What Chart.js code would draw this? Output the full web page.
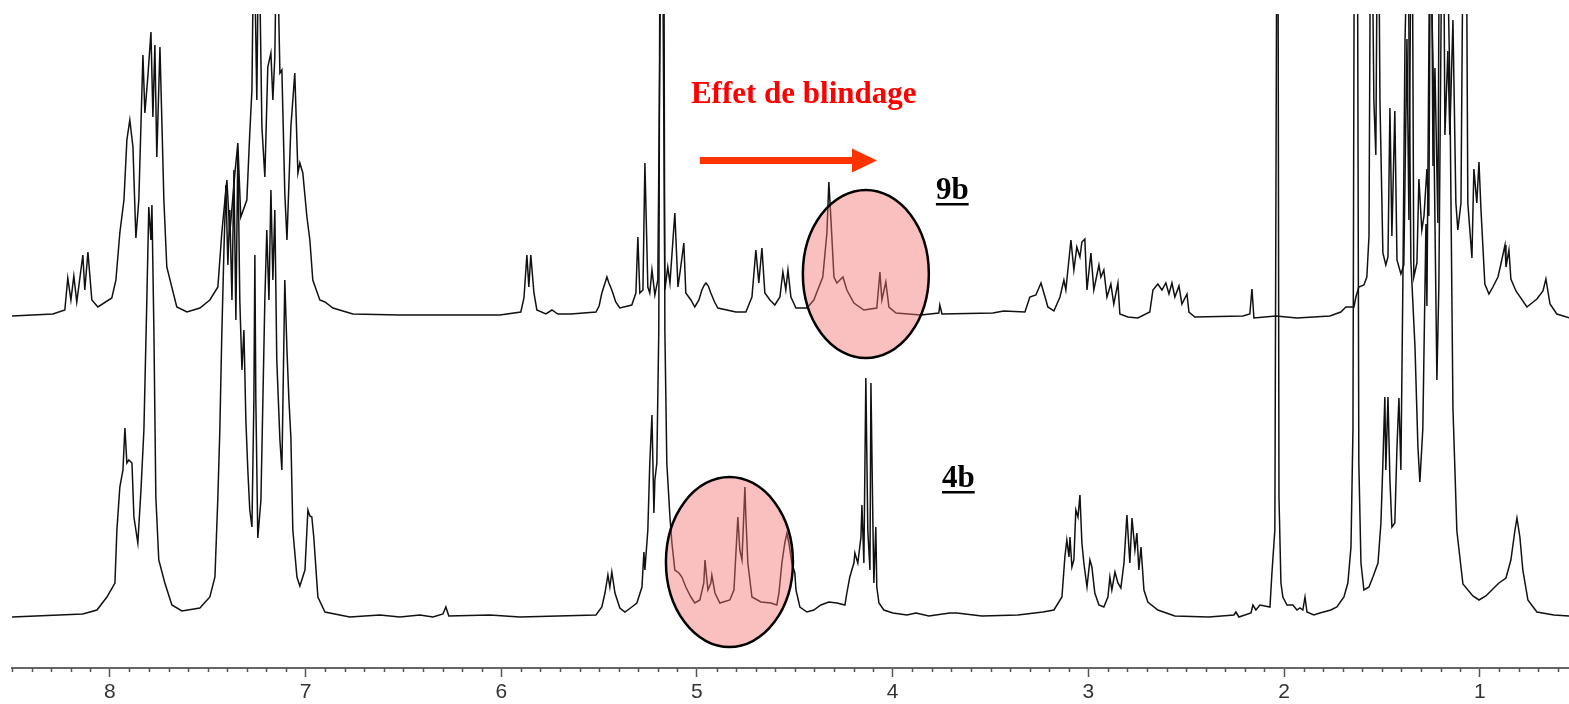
<!DOCTYPE html>
<html><head><meta charset="utf-8">
<script src="https://cdn.jsdelivr.net/npm/chart.js@4.4.1/dist/chart.umd.min.js"></script>
<style>html,body{margin:0;padding:0;background:#fff;}canvas{display:block;}</style>
</head><body>
<canvas id="c" width="1569" height="704"></canvas>
<script>
// ---- Data (chemical shift in ppm, intensity in arbitrary units) ----
const ppm9b = [8.50,8.291,8.230,8.215,8.199,8.184,8.169,8.138,8.128,8.112,8.092,8.061,7.990,7.969,7.949,7.928,7.913,7.898,7.882,7.867,7.852,7.831,7.821,7.806,7.790,7.780,7.770,7.760,7.744,7.734,7.724,7.709,7.658,7.606,7.540,7.489,7.448,7.428,7.412,7.402,7.387,7.361,7.346,7.331,7.300,7.285,7.274,7.264,7.249,7.239,7.223,7.208,7.193,7.177,7.167,7.157,7.147,7.131,7.121,7.106,7.095,7.075,7.055,7.039,7.029,7.014,6.993,6.978,6.963,6.927,6.901,6.860,6.758,6.518,6.007,5.900,5.884,5.869,5.859,5.849,5.833,5.818,5.772,5.741,5.711,5.644,5.516,5.500,5.486,5.460,5.450,5.435,5.415,5.394,5.333,5.312,5.302,5.292,5.276,5.266,5.251,5.241,5.230,5.215,5.200,5.179,5.164,5.149,5.138,5.113,5.097,5.087,5.067,5.057,5.031,5.011,4.990,4.975,4.962,4.954,4.942,4.929,4.910,4.893,4.801,4.750,4.719,4.699,4.684,4.668,4.653,4.627,4.602,4.576,4.561,4.546,4.535,4.520,4.494,4.438,4.403,4.357,4.336,4.326,4.316,4.300,4.285,4.254,4.234,4.198,4.147,4.081,4.065,4.055,4.035,4.019,3.983,3.856,3.764,3.759,3.748,3.488,3.432,3.324,3.299,3.268,3.242,3.217,3.207,3.176,3.145,3.125,3.115,3.089,3.074,3.059,3.043,3.033,3.018,3.007,2.987,2.972,2.946,2.936,2.921,2.905,2.885,2.870,2.849,2.839,2.798,2.747,2.686,2.670,2.645,2.624,2.604,2.588,2.573,2.558,2.537,2.522,2.496,2.486,2.456,2.210,2.175,2.164,2.154,2.042,1.934,1.766,1.710,1.684,1.643,1.633,1.618,1.592,1.577,1.566,1.556,1.541,1.531,1.520,1.510,1.495,1.480,1.469,1.459,1.449,1.434,1.423,1.403,1.388,1.372,1.362,1.347,1.337,1.321,1.311,1.296,1.285,1.270,1.260,1.250,1.239,1.229,1.214,1.204,1.188,1.178,1.163,1.153,1.137,1.122,1.112,1.096,1.081,1.071,1.061,1.040,1.030,1.015,1.004,0.994,0.974,0.953,0.933,0.907,0.892,0.871,0.866,0.851,0.841,0.815,0.759,0.708,0.677,0.662,0.641,0.606,0.539];
const int9b = [0,2,6,38,16,40,14,61,26,64,16,9,18,36,83,116,176,196,169,78,116,261,203,239,284,199,271,159,269,193,116,49,9,4,8,16,29,83,116,136,83,143,173,99,116,183,226,400,216,400,189,139,249,263,216,259,400,243,246,123,76,189,243,143,153,143,99,76,36,16,14,8,2,1,1,4,18,61,29,61,23,6,2,6,2,2,4,10,23,39,33,26,14,8,11,23,79,23,26,153,29,23,46,21,36,500,26,49,33,103,29,43,73,23,16,9,16,26,31,33,30,23,14,8,4,4,19,66,33,68,23,16,11,19,44,26,46,19,8,8,16,39,83,134,99,39,33,39,26,13,6,8,44,16,34,9,3,1,3,11,2,3,5,4,19,21,33,16,9,5,19,36,26,76,46,69,59,74,77,26,63,26,51,39,46,19,32,12,33,2,-1,-2,4,26,32,26,33,22,33,19,30,12,22,4,-1,0,2,27,-2,0,-2,0,4,9,9,19,29,31,39,80,500,215,161,500,215,63,51,59,208,80,205,56,42,51,277,96,500,39,53,137,86,100,147,100,500,150,248,93,500,500,181,265,181,296,113,86,113,500,500,113,58,147,113,154,107,32,22,29,39,52,71,49,66,37,25,9,17,25,37,12,2,-2];

const ppm4b = [8.50,8.138,8.066,8.015,7.974,7.964,7.949,7.933,7.923,7.913,7.903,7.887,7.877,7.857,7.841,7.826,7.811,7.801,7.790,7.785,7.775,7.765,7.750,7.719,7.683,7.632,7.540,7.489,7.463,7.448,7.438,7.428,7.417,7.407,7.397,7.387,7.376,7.366,7.356,7.346,7.336,7.325,7.315,7.305,7.295,7.285,7.274,7.264,7.259,7.254,7.244,7.228,7.218,7.208,7.198,7.187,7.177,7.167,7.157,7.147,7.131,7.121,7.106,7.095,7.085,7.075,7.065,7.044,7.029,7.003,6.988,6.978,6.968,6.958,6.937,6.901,6.774,6.620,6.518,6.416,6.349,6.298,6.283,6.268,6.058,5.905,5.516,5.486,5.470,5.455,5.445,5.435,5.419,5.394,5.368,5.333,5.307,5.281,5.271,5.266,5.251,5.241,5.230,5.220,5.215,5.205,5.195,5.189,5.169,5.164,5.154,5.138,5.128,5.113,5.092,5.077,5.057,5.031,5.011,4.985,4.965,4.959,4.944,4.929,4.924,4.908,4.883,4.832,4.811,4.791,4.781,4.770,4.755,4.750,4.740,4.719,4.673,4.622,4.592,4.581,4.566,4.551,4.540,4.530,4.515,4.500,4.494,4.474,4.438,4.403,4.367,4.326,4.285,4.244,4.234,4.219,4.198,4.193,4.178,4.162,4.157,4.147,4.137,4.127,4.116,4.111,4.101,4.096,4.086,4.081,4.070,4.045,3.999,3.927,3.881,3.815,3.708,3.672,3.544,3.360,3.232,3.176,3.135,3.120,3.110,3.099,3.094,3.084,3.074,3.064,3.053,3.043,3.033,3.023,3.007,2.992,2.982,2.967,2.946,2.921,2.900,2.890,2.880,2.864,2.849,2.834,2.818,2.803,2.788,2.777,2.762,2.752,2.742,2.731,2.716,2.696,2.645,2.558,2.384,2.256,2.246,2.231,2.169,2.159,2.144,2.123,2.072,2.062,2.047,2.037,2.031,2.026,2.016,2.006,1.985,1.955,1.934,1.919,1.904,1.893,1.883,1.848,1.817,1.761,1.730,1.694,1.674,1.658,1.648,1.641,1.625,1.618,1.607,1.592,1.566,1.546,1.520,1.505,1.495,1.485,1.480,1.469,1.459,1.449,1.434,1.423,1.413,1.403,1.393,1.382,1.367,1.352,1.331,1.316,1.306,1.291,1.275,1.270,1.255,1.239,1.219,1.209,1.193,1.168,1.153,1.137,1.117,1.086,1.035,1.004,0.969,0.933,0.902,0.866,0.841,0.820,0.810,0.795,0.780,0.754,0.708,0.621,0.539];
const int4b = [-1,2,6,19,33,86,129,146,188,153,156,153,99,73,126,186,316,409,376,411,286,119,56,33,11,5,8,19,39,119,186,281,366,431,351,406,316,446,296,466,316,246,286,196,146,106,89,216,361,216,78,116,216,316,386,316,426,336,406,256,176,146,336,266,216,179,86,39,30,46,106,100,99,79,19,4,-1,1,-1,1,-1,2,9,0,1,-1,1,9,23,41,29,44,23,8,4,9,13,29,64,46,86,153,201,103,136,153,286,700,700,286,153,99,73,46,43,39,29,19,13,16,33,56,26,33,41,23,13,16,26,99,66,56,129,99,53,19,14,13,11,23,53,73,83,73,53,43,26,9,4,6,11,14,13,11,23,39,53,63,53,79,111,53,238,86,46,233,93,33,89,29,13,6,3,1,3,0,3,3,0,1,4,6,19,59,76,59,79,49,56,106,99,121,73,53,29,56,49,23,11,9,19,39,26,44,33,28,53,101,53,98,66,83,46,69,26,14,6,0,-1,1,4,-1,3,11,6,11,9,43,86,700,700,119,33,19,11,11,6,8,6,19,4,1,3,6,9,19,33,69,186,700,700,153,53,26,29,39,53,93,153,219,146,219,136,89,93,169,218,146,330,575,700,355,269,169,134,187,392,310,700,555,236,330,700,700,534,208,85,32,20,16,20,27,33,38,56,86,98,79,46,16,4,1,0];

const seriesNames = ['9b', '4b'];
const xTickValues = [8, 7, 6, 5, 4, 3, 2, 1];
const minorStep = 0.1;
const xMin = 0.544, xMax = 8.5;

function pts(xs, ys) { return xs.map((x, i) => ({ x: x, y: ys[i] })); }

const annot = {
  title: { text: 'Effet de blindage', ppm: 5.031, yTop: 213 },
  arrow: { fromPpm: 4.985, toPpm: 4.080, yTop: 155.5 },
  lab9b: { text: seriesNames[0], ppm: 3.779, yTop: 117 },
  lab4b: { text: seriesNames[1], ppm: 3.748, yBot: 129 },
  ell9b: { ppm: 4.137, yTop: 42 },
  ell4b: { ppm: 4.834, yBot: 54 }
};

const overlay = {
  id: 'overlay',
  afterDatasetsDraw(chart) {
    const ctx = chart.ctx, sx = chart.scales.x, st = chart.scales.yTop, sb = chart.scales.yBot;
    ctx.save();
    const ells = [[sx.getPixelForValue(annot.ell9b.ppm), st.getPixelForValue(annot.ell9b.yTop), 63, 84],
                  [sx.getPixelForValue(annot.ell4b.ppm), sb.getPixelForValue(annot.ell4b.yBot), 63.5, 85]];
    ells.forEach(e => {
      ctx.beginPath();
      ctx.ellipse(e[0], e[1], e[2], e[3], 0, 0, Math.PI * 2);
      ctx.fillStyle = 'rgba(244,112,112,0.45)';
      ctx.fill();
      ctx.lineWidth = 2.5;
      ctx.strokeStyle = '#000';
      ctx.stroke();
    });
    ctx.fillStyle = '#ff0000';
    ctx.font = 'bold 31px "Liberation Serif", "Times New Roman", serif';
    ctx.textBaseline = 'alphabetic';
    ctx.textAlign = 'left';
    ctx.fillText(annot.title.text, sx.getPixelForValue(annot.title.ppm), st.getPixelForValue(annot.title.yTop));
    const x1 = sx.getPixelForValue(annot.arrow.fromPpm), x2 = sx.getPixelForValue(annot.arrow.toPpm);
    const ya = st.getPixelForValue(annot.arrow.yTop);
    ctx.fillStyle = '#ff3300';
    ctx.fillRect(x1, ya - 3.5, (x2 - 24) - x1, 7);
    ctx.beginPath();
    ctx.moveTo(x2 - 25, ya - 12);
    ctx.lineTo(x2, ya);
    ctx.lineTo(x2 - 25, ya + 12);
    ctx.closePath();
    ctx.fill();
    ctx.fillStyle = '#000';
    ctx.font = 'bold 31px "Liberation Serif", "Times New Roman", serif';
    [[annot.lab9b.text, sx.getPixelForValue(annot.lab9b.ppm), st.getPixelForValue(annot.lab9b.yTop)],
     [annot.lab4b.text, sx.getPixelForValue(annot.lab4b.ppm), sb.getPixelForValue(annot.lab4b.yBot)]].forEach(l => {
      ctx.fillText(l[0], l[1], l[2]);
      const w = ctx.measureText(l[0]).width;
      ctx.fillRect(l[1], l[2] + 4, w, 2.5);
    });
    ctx.restore();
  },
  afterDraw(chart) {
    const ctx = chart.ctx, sx = chart.scales.x, y0 = chart.chartArea.bottom;
    ctx.save();
    ctx.strokeStyle = '#555';
    ctx.lineWidth = 1.5;
    for (let k = Math.round(xMax / minorStep); k * minorStep >= xMin; k--) {
      const v = k * minorStep;
      if (Math.abs(v - Math.round(v)) < 1e-6) continue;
      const px = Math.round(sx.getPixelForValue(v)) + 0.5;
      ctx.beginPath();
      ctx.moveTo(px, y0);
      ctx.lineTo(px, y0 + 4);
      ctx.stroke();
    }
    ctx.restore();
  }
};

new Chart(document.getElementById('c'), {
  type: 'line',
  data: {
    datasets: [
      { label: seriesNames[0], data: pts(ppm9b, int9b), yAxisID: 'yTop', borderColor: '#111', borderWidth: 1.5, pointRadius: 0, tension: 0, fill: false, clip: 0 },
      { label: seriesNames[1], data: pts(ppm4b, int4b), yAxisID: 'yBot', borderColor: '#111', borderWidth: 1.5, pointRadius: 0, tension: 0, fill: false, clip: 0 }
    ]
  },
  options: {
    responsive: false,
    animation: false,
    devicePixelRatio: 1,
    layout: { padding: { left: 12, top: 14, right: 0, bottom: 0 } },
    plugins: { legend: { display: false }, tooltip: { enabled: false } },
    scales: {
      x: {
        type: 'linear', reverse: true, min: xMin, max: xMax, position: 'bottom',
        afterBuildTicks: s => { s.ticks = xTickValues.map(v => ({ value: v })); },
        afterFit: s => { s.height = 36; },
        border: { display: true, color: '#666', width: 2 },
        grid: { display: true, drawOnChartArea: false, drawTicks: true, tickLength: 9, tickColor: '#555', tickWidth: 1.5 },
        ticks: { autoSkip: false, maxRotation: 0, padding: 3, color: '#333', font: { family: 'Liberation Sans', size: 21 }, callback: v => String(v) }
      },
      yTop: { type: 'linear', display: false, min: -352, max: 302 },
      yBot: { type: 'linear', display: false, min: -52, max: 602 }
    }
  },
  plugins: [overlay]
});
</script>
</body></html>
